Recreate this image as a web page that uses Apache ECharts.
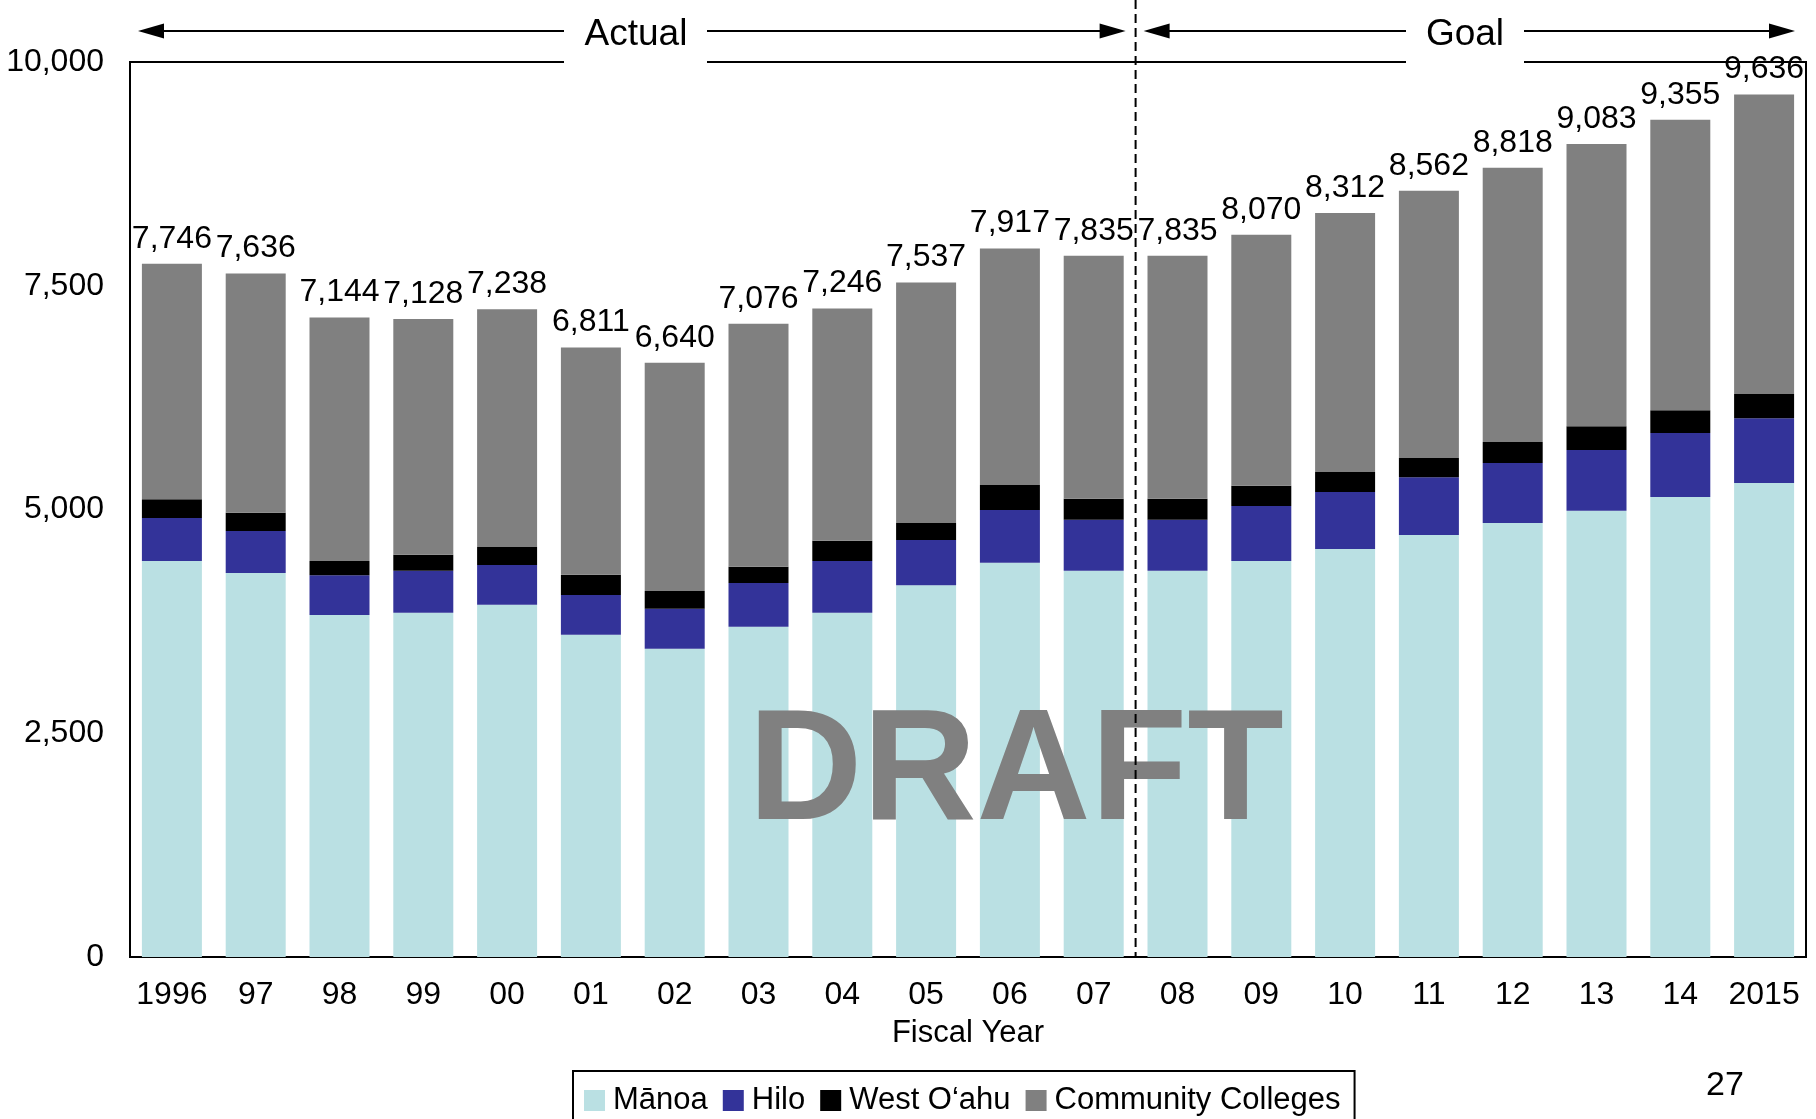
<!DOCTYPE html>
<html>
<head>
<meta charset="UTF-8">
<title>Fiscal Year</title>
<style>
  html, body { margin: 0; padding: 0; background: #fff; }
  #chart { width: 1816px; height: 1119px; }
</style>
</head>
<body>
<div id="chart"></div>
<script src="https://cdn.jsdelivr.net/npm/echarts@6/dist/echarts.min.js"></script>
<script type="text/javascript">
// fiscal years on the x axis
var years = ['1996', '97', '98', '99', '00', '01', '02', '03', '04', '05', '06', '07',
             '08', '09', '10', '11', '12', '13', '14', '2015'];
// stacked segments
var manoa     = [4425, 4290, 3820, 3845, 3935, 3600, 3445, 3690, 3845, 4155, 4405, 4315, 4315, 4425, 4560, 4715, 4850, 4985, 5140, 5295];
var hilo      = [480, 470, 445, 470, 445, 445, 445, 490, 580, 505, 590, 570, 570, 615, 635, 645, 670, 680, 715, 725];
var westOahu  = [210, 205, 160, 180, 200, 225, 200, 180, 225, 190, 280, 235, 235, 225, 225, 215, 235, 265, 255, 270];
var community = [2631, 2671, 2719, 2633, 2658, 2541, 2550, 2716, 2596, 2687, 2642, 2715, 2715, 2805, 2892, 2987, 3063, 3153, 3245, 3346];
// totals printed above each bar
var totals    = [7746, 7636, 7144, 7128, 7238, 6811, 6640, 7076, 7246, 7537, 7917, 7835, 7835, 8070, 8312, 8562, 8818, 9083, 9355, 9636];
// y axis ticks
var yTicks = [0, 2500, 5000, 7500, 10000];

var seriesNames = ['Mānoa', 'Hilo', 'West O‘ahu', 'Community Colleges'];
var colors = ['#bae0e3', '#333399', '#000000', '#808080'];
var font = '"Liberation Sans", Arial, sans-serif';

var chart = echarts.init(document.getElementById('chart'));

function fmt(v) {
    return Number(v).toLocaleString('en-US');
}

function barSeries(name, data, color) {
    return {
        name: name,
        type: 'bar',
        stack: 'total',
        barWidth: 60,
        data: data,
        itemStyle: { color: color },
        emphasis: { disabled: true }
    };
}

var series = [
    barSeries(seriesNames[0], manoa, colors[0]),
    barSeries(seriesNames[1], hilo, colors[1]),
    barSeries(seriesNames[2], westOahu, colors[2]),
    barSeries(seriesNames[3], community, colors[3])
];
// total label sits on top of the last segment
series[3].label = {
    show: true,
    position: 'top',
    distance: 9,
    color: '#000',
    fontFamily: font,
    fontSize: 32,
    formatter: function (p) { return fmt(totals[p.dataIndex]); }
};

chart.setOption({
    animation: false,
    color: colors,
    textStyle: { fontFamily: font },
    grid: {
        left: 130, right: 10, top: 62, bottom: 162,
        show: true, borderColor: '#000', borderWidth: 2, backgroundColor: 'transparent'
    },
    legend: {
        data: seriesNames,
        left: 573, top: 1071,
        icon: 'rect',
        itemWidth: 21, itemHeight: 21, itemGap: 15,
        padding: [14, 14, 40, 11],
        borderColor: '#000', borderWidth: 2,
        textStyle: { fontFamily: font, fontSize: 31, color: '#000', padding: [0, 0, 0, 3] },
        selectedMode: false
    },
    xAxis: {
        type: 'category',
        data: years,
        name: 'Fiscal Year',
        nameLocation: 'middle',
        nameGap: 61,
        nameTextStyle: { fontFamily: font, fontSize: 31, color: '#000' },
        axisLine: { lineStyle: { color: '#000', width: 2 } },
        axisTick: { show: false },
        axisLabel: { fontFamily: font, fontSize: 32, color: '#000', margin: 22, interval: 0 }
    },
    yAxis: {
        type: 'value',
        min: yTicks[0],
        max: yTicks[yTicks.length - 1],
        interval: yTicks[1] - yTicks[0],
        axisLine: { show: true, lineStyle: { color: '#000', width: 2 } },
        axisTick: { show: false },
        splitLine: { show: false },
        axisLabel: { fontFamily: font, fontSize: 32, color: '#000', margin: 26, formatter: fmt }
    },
    series: series
});

// annotations: divider, Actual / Goal arrows, DRAFT stamp, page number
var gLeft = 130, gRight = 1806, gTop = 62, gBottom = 957;
var divX = (chart.convertToPixel({ xAxisIndex: 0 }, 11) + chart.convertToPixel({ xAxisIndex: 0 }, 12)) / 2;
var arrowY = 31;

function arrowHead(tipX, dir) {
    // dir = -1 points left, 1 points right
    var baseX = tipX - dir * 26;
    return {
        type: 'polygon', z: 50,
        shape: { points: [[tipX, arrowY], [baseX, arrowY - 7.5], [baseX, arrowY + 7.5]] },
        style: { fill: '#000' }
    };
}
function hLine(x1, x2) {
    return {
        type: 'line', z: 50,
        shape: { x1: x1, y1: arrowY, x2: x2, y2: arrowY },
        style: { stroke: '#000', lineWidth: 2 }
    };
}
function gapRect(x1, x2) {
    return {
        type: 'rect', z: 40,
        shape: { x: x1, y: gTop - 4, width: x2 - x1, height: 8 },
        style: { fill: '#fff' }
    };
}
function label(text, x, y, size, extra) {
    var st = { text: text, x: x, y: y, fill: '#000', font: size + 'px ' + font, align: 'center', verticalAlign: 'middle' };
    for (var k in extra) st[k] = extra[k];
    return { type: 'text', z: 50, style: st };
}

chart.setOption({
    graphic: [
        gapRect(564, 707),
        gapRect(1406, 1524),
        arrowHead(gLeft + 8, -1), hLine(gLeft + 30, 564),
        label('Actual', 636, arrowY + 4, 37),
        hLine(707, divX - 30), arrowHead(divX - 10, 1),
        arrowHead(divX + 8, -1), hLine(divX + 30, 1406),
        label('Goal', 1465, arrowY + 4, 37),
        hLine(1524, gRight - 32), arrowHead(gRight - 11, 1),
        {
            type: 'text', z: 60,
            style: {
                text: 'DRAFT', x: 1016, y: 775, fill: '#808080',
                font: 'bold 158px ' + font, align: 'center', verticalAlign: 'middle'
            }
        },
        {
            type: 'line', z: 70,
            shape: { x1: divX, y1: 0, x2: divX, y2: gBottom },
            style: { stroke: '#000', lineWidth: 2, lineDash: [9, 5] }
        },
        label('27', 1725, 1086, 34)
    ]
});
</script>
</body>
</html>
